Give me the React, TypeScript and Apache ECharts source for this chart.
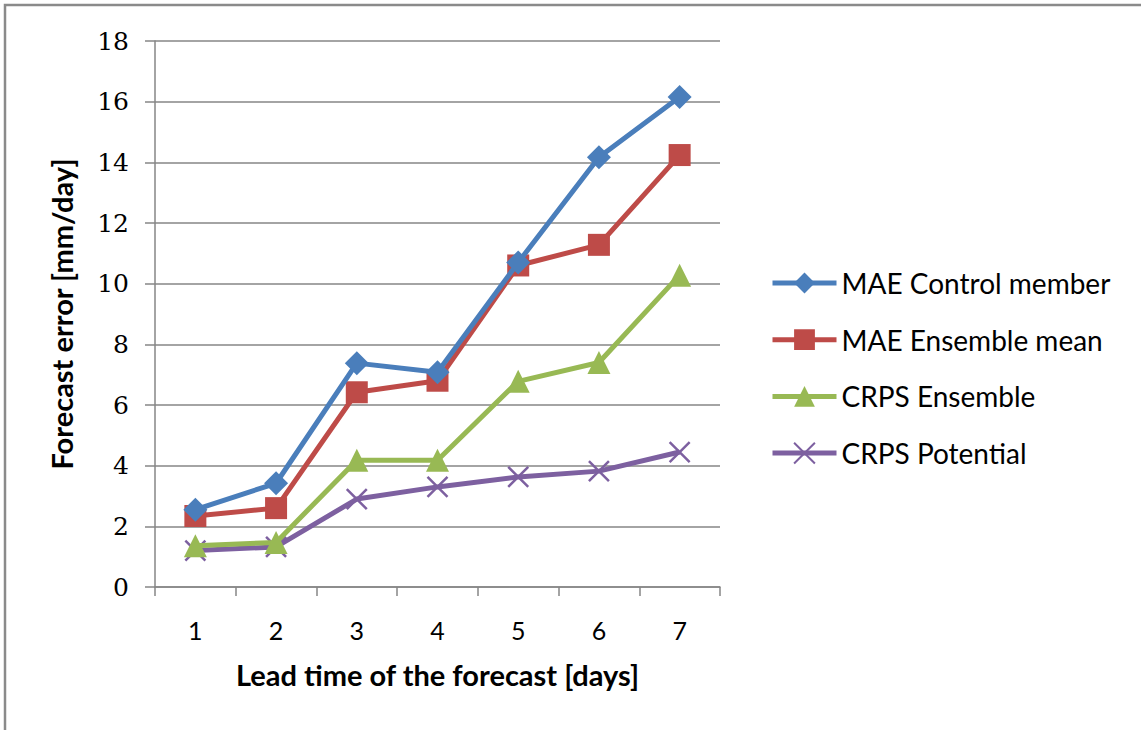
import React, { useEffect, useRef } from "react";
import * as echarts from "echarts";

const categories = ["1", "2", "3", "4", "5", "6", "7"];
const maeControl = [2.55, 3.42, 7.38, 7.08, 10.7, 14.17, 16.15];
const maeEnsemble = [2.34, 2.6, 6.42, 6.8, 10.6, 11.28, 14.24];
const crpsEnsemble = [1.36, 1.47, 4.18, 4.18, 6.78, 7.4, 10.28];
const crpsPotential = [1.2, 1.32, 2.9, 3.3, 3.63, 3.82, 4.45];
const seriesNames = ["MAE Control member", "MAE Ensemble mean", "CRPS Ensemble", "CRPS Potential"];
const yTicks = [0, 2, 4, 6, 8, 10, 12, 14, 16, 18];

const COLORS = ["#4A7EBB", "#BE4B48", "#98B954", "#7D60A0"];
const CROSS = "path://M0,0L10,10M10,0L0,10";

export default function App() {
  const ref = useRef<HTMLDivElement>(null);
  useEffect(() => {
    if (!ref.current) return;
    const chart = echarts.init(ref.current, null, { renderer: "svg" });
    const sansFont = "Lato";
    const datas = [maeControl, maeEnsemble, crpsEnsemble, crpsPotential];
    const symbols = ["diamond", "rect", "triangle", CROSS];
    const sizes = [24, 22, 23, 20];
    chart.setOption({
      animation: false,
      backgroundColor: "#ffffff",
      graphic: [
        {
          type: "rect",
          shape: { x: 5, y: 5, width: 1200, height: 800 },
          style: { fill: "none", stroke: "#8a8a8a", lineWidth: 2.5 },
          silent: true,
        },
      ],
      grid: { left: 155, top: 41, width: 565, height: 546 },
      legend: {
        orient: "vertical",
        left: 765,
        top: 264,
        itemWidth: 64,
        itemHeight: 26,
        itemGap: 28.7,
        data: seriesNames,
        lineStyle: { width: 5 },
        textStyle: { fontFamily: sansFont, fontSize: 28, color: "#000", padding: [0, 0, 0, 0] },
      },
      xAxis: {
        type: "category",
        data: categories,
        boundaryGap: true,
        axisLine: { lineStyle: { color: "#868686", width: 1.5 } },
        axisTick: { show: true, length: 9, lineStyle: { color: "#868686", width: 1.5 } },
        axisLabel: { margin: 30, fontFamily: sansFont, fontSize: 25, color: "#000" },
        name: "Lead time of the forecast [days]",
        nameLocation: "middle",
        nameGap: 73,
        nameTextStyle: { fontFamily: sansFont, fontSize: 29, fontWeight: "bold", color: "#000" },
      },
      yAxis: {
        type: "value",
        min: 0,
        max: 18,
        interval: 2,
        axisLine: { show: true, lineStyle: { color: "#868686", width: 1.5 } },
        axisTick: { show: true, length: 10, lineStyle: { color: "#868686", width: 1.5 } },
        splitLine: { show: true, lineStyle: { color: "#868686", width: 1.5 } },
        axisLabel: {
          margin: 26,
          fontFamily: "DejaVu Serif",
          fontSize: 25,
          color: "#000",
          formatter: (v: number) => (yTicks.includes(v) ? String(v) : ""),
        },
        name: "Forecast error [mm/day]",
        nameLocation: "middle",
        nameGap: 79,
        nameRotate: 90,
        nameTextStyle: { fontFamily: sansFont, fontSize: 29, fontWeight: "bold", color: "#000" },
      },
      series: seriesNames.map((name, i) => ({
        name,
        type: "line",
        data: datas[i],
        symbol: symbols[i],
        symbolSize: sizes[i],
        showSymbol: true,
        lineStyle: { color: COLORS[i], width: 5 },
        itemStyle:
          i === 3
            ? { color: COLORS[i], borderColor: COLORS[i], borderWidth: 2.5 }
            : { color: COLORS[i], borderWidth: 0 },
        z: 10 - i,
      })),
    });
    return () => chart.dispose();
  }, []);
  return (
    <div
      ref={ref}
      style={{ position: "fixed", left: 0, top: 0, width: 1141, height: 730 }}
    />
  );
}
